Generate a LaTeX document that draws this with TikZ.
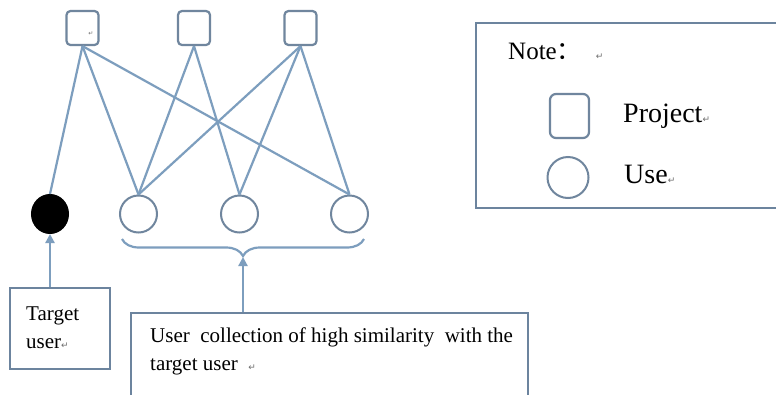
\documentclass[tikz,border=0pt]{standalone}
\usepackage{fontspec}
\setmainfont{Liberation Serif}
\newfontfamily\serifx{Liberation Serif}
\newfontfamily\symfont{DejaVu Sans}
\newfontfamily\cjk{Noto Sans CJK SC}
\usetikzlibrary{arrows.meta,decorations.pathreplacing,shapes.geometric}
\definecolor{edgec}{RGB}{125,158,190}
\definecolor{shapec}{RGB}{112,134,158}
\definecolor{boxc}{RGB}{108,132,158}
\definecolor{markc}{RGB}{110,110,110}
\newcommand{\retmark}[1][9]{{\symfont\fontsize{#1}{#1}\selectfont\color{markc}↵}}
\begin{document}
\begin{tikzpicture}[x=1pt,y=-1pt,
  projbox/.style={draw=shapec,line width=2.2pt,rounded corners=4pt,minimum width=32pt,minimum height=34pt,inner sep=0pt},
  userc/.style={draw=shapec,line width=2pt,circle,minimum size=37pt,inner sep=0pt},
  link/.style={draw=edgec,line width=2.2pt},
  frame/.style={draw=boxc,line width=1.8pt,inner sep=0pt},
  lbl/.style={anchor=base west,inner sep=0pt,font=\serifx\fontsize{21}{28}\selectfont},
  biglbl/.style={anchor=base west,inner sep=0pt,font=\serifx\fontsize{28}{32}\selectfont},
  arr/.style={draw=edgec,line width=2.2pt,-{Triangle[width=9pt,length=9pt]}}]
\useasboundingbox (0,0) rectangle (776,394);
\fill[white] (0,0) rectangle (776,394);

% projects
\node[projbox] (p1) at (82.5,28) {};
\node[projbox] (p2) at (194,28) {};
\node[projbox] (p3) at (300.5,28) {};
\node[inner sep=0pt] (pm) at (91,34) {\retmark[6]};

% users
\node[ellipse,fill=black,draw=black,line width=1pt,minimum width=37pt,minimum height=39pt,inner sep=0pt] (u0) at (50,214) {};
\node[userc] (u1) at (138.5,214) {};
\node[userc] (u2) at (239.5,214) {};
\node[userc] (u3) at (349.5,214) {};

% links
\draw[link] (p1.south) -- (u0.north);
\draw[link] (p1.south) -- (u1.north);
\draw[link] (p1.south) -- (u3.north);
\draw[link] (p2.south) -- (u1.north);
\draw[link] (p2.south) -- (u2.north);
\draw[link] (p3.south) -- (u1.north);
\draw[link] (p3.south) -- (u2.north);
\draw[link] (p3.south) -- (u3.north);

% brace
\coordinate (bl) at (122,239);
\coordinate (br) at (364,239);
\coordinate (btip) at (243,257);
\draw[link,decorate,decoration={brace,amplitude=17pt,mirror}] (bl) -- (br);

% target user box
\node[frame,minimum width=100pt,minimum height=81pt] (tbox) at (60,328.5) {};
\node[lbl] (t1) at (26,320) {Target};
\node[lbl] (t2) at (26,348) {user\retmark};
\draw[arr] (tbox.north -| u0.south) -- (u0.south);

% similar users box
\node[frame,minimum width=397pt,minimum height=100pt] (sbox) at (329.5,363) {};
\node[lbl] (s1) at (150,342) {User\ \ collection of high similarity\ \ with the};
\node[lbl] (s2) at (150,370) {target user\ \ \retmark};
\draw[arr] (sbox.north -| btip) -- (btip);

% legend
\node[frame,minimum width=310pt,minimum height=185pt] (leg) at (631,115.5) {};
\node[anchor=base west,inner sep=0pt,font=\serifx\fontsize{25}{28}\selectfont] (note) at (508,59) {Note{\cjk ：}\hspace{14pt}\retmark};
\node[projbox,minimum width=39pt,minimum height=44pt,rounded corners=6pt] (lp) at (569.5,116) {};
\node[userc,minimum size=41pt] (lu) at (568,177.5) {};
\node[biglbl] (lpt) at (623,122) {Project\retmark};
\node[biglbl] (lut) at (624,183) {Use\retmark};
\end{tikzpicture}
\end{document}
